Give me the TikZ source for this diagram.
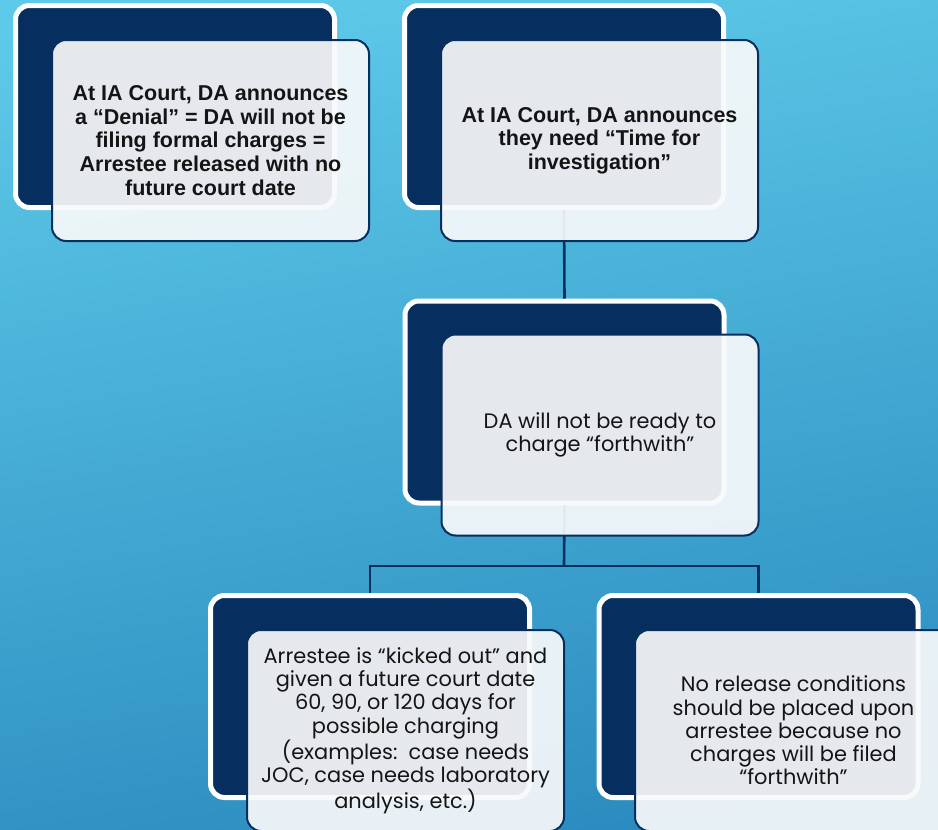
\documentclass[tikz,border=0pt]{standalone}
\usepackage{fontspec}
\setmainfont{Liberation Sans}
\newfontfamily\geofont{Poppins}
\definecolor{bgtop}{RGB}{94,202,233}
\definecolor{bgbot}{RGB}{42,138,190}
\definecolor{navy}{RGB}{6,46,94}
\definecolor{lightfill}{RGB}{248,249,250}
\definecolor{txt}{RGB}{20,20,20}
\begin{document}
\begin{tikzpicture}[x=1pt,y=-1pt,
  darkbox/.style={draw=white,line width=5pt,fill=navy,rounded corners=14pt,
    minimum width=319pt,minimum height=202pt,inner sep=0pt},
  lightbox/.style={draw=navy,line width=2pt,fill=lightfill,fill opacity=0.92,
    text opacity=1,rounded corners=14pt,minimum width=317pt,minimum height=201pt,
    inner sep=0pt,align=center,text=txt},
  boldtxt/.style={font=\fontsize{21.5}{23.7}\selectfont\bfseries},
  regtxt/.style={font=\geofont\fontsize{20.9}{23.3}\selectfont},
  conn/.style={draw=navy,line width=2.6pt}]
\useasboundingbox (0,0) rectangle (938,830);
\clip (0,0) rectangle (938,830);
\shade[top color=bgtop,bottom color=bgbot,shading angle=10] (-40,-40) rectangle (980,870);
% dark boxes
\node[darkbox] (d1) at (175,106.5) {};
\node[darkbox] (d2) at (564,106.5) {};
\node[darkbox] (d3) at (564.5,402) {};
\node[darkbox] (d4) at (370,696.5) {};
\node[darkbox] (d5) at (758.5,696.5) {};
% connectors
\coordinate (j) at (564,566);
\draw[conn] (d2.south) -- (d3.north);
\draw[conn] (d3.south) -- (j);
\draw[conn] (j) -| (d4.north);
\draw[conn] (j) -| (d5.north);
% light boxes
\node[lightbox,boldtxt] (l1) at (210.5,140.5) {At IA Court, DA announces\\a “Denial” = DA will not be\\filing formal charges =\\Arrestee released with no\\future court date};
\node[lightbox,boldtxt] (l2) at (599.5,140.5) {At IA Court, DA announces\\they need “Time for\\investigation”};
\node[lightbox,regtxt] (l3) at (600,435) {DA will not be ready to\\charge “forthwith”};
\node[lightbox,regtxt] (l4) at (405.5,730.5) {Arrestee is “kicked out” and\\given a future court date\\60, 90, or 120 days for\\possible charging\\(examples:\ \ case needs\\JOC, case needs laboratory\\analysis, etc.)};
\node[lightbox,regtxt] (l5) at (793.5,730.5) {No release conditions\\should be placed upon\\arrestee because no\\charges will be filed\\“forthwith”};
\end{tikzpicture}
\end{document}
